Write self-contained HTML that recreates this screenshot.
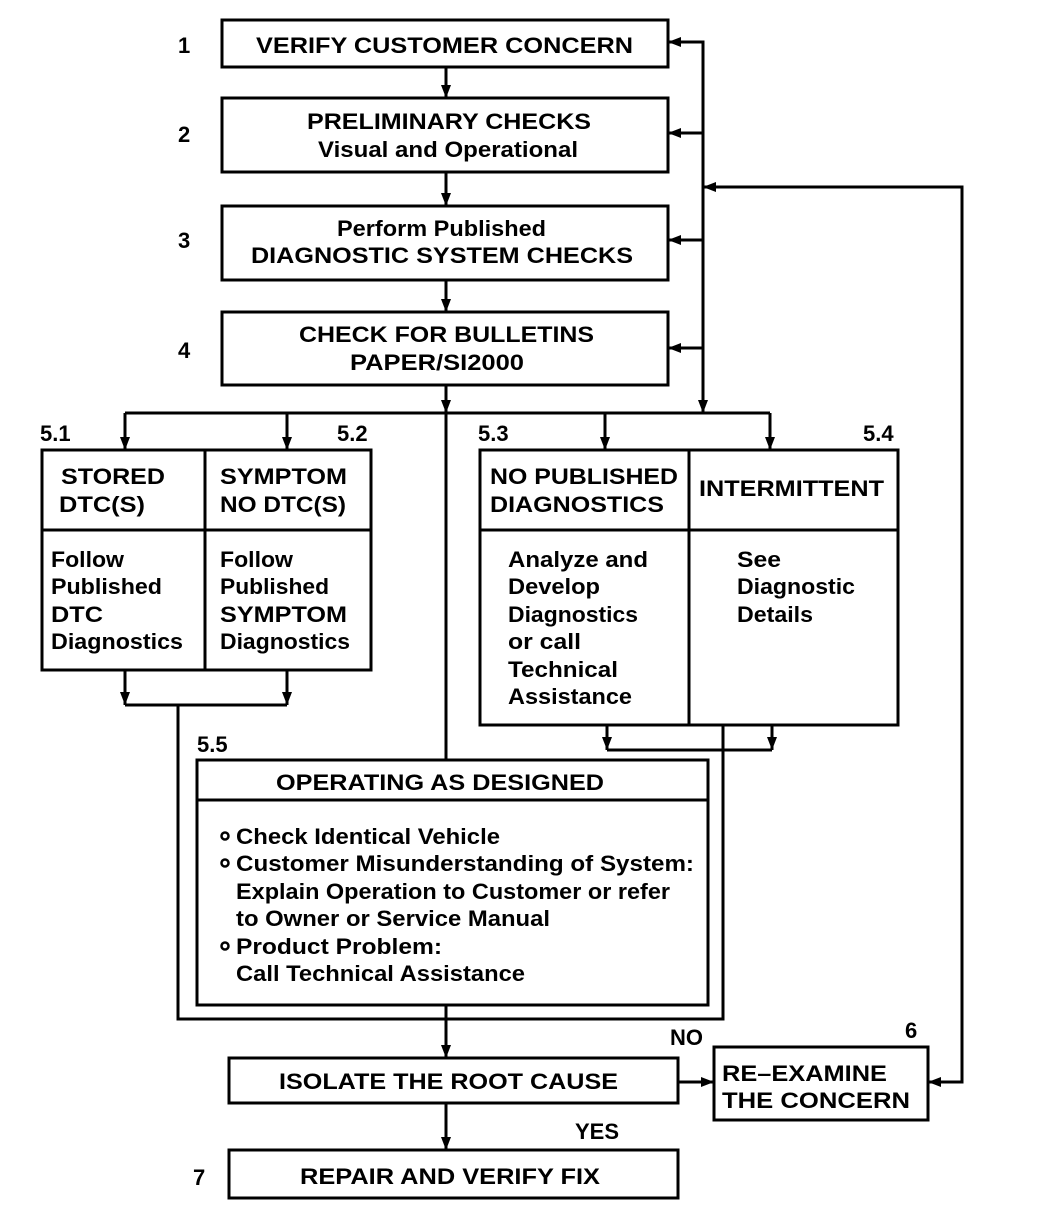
<!DOCTYPE html>
<html><head><meta charset="utf-8"><style>
html,body{margin:0;padding:0;background:#fff;}
svg{display:block;}
text{font-family:"Liberation Sans",Arial,sans-serif;font-weight:bold;font-size:22px;fill:#000;}
</style></head><body>
<svg width="1056" height="1224" viewBox="0 0 1056 1224" xmlns="http://www.w3.org/2000/svg">
<g fill="none" stroke="#000" stroke-width="3">
<rect x="222" y="20" width="446" height="47"/>
<rect x="222" y="98" width="446" height="74"/>
<rect x="222" y="206" width="446" height="74"/>
<rect x="222" y="312" width="446" height="73"/>
<rect x="42" y="450" width="329" height="220"/>
<line x1="205" y1="450" x2="205" y2="670"/>
<line x1="42" y1="530" x2="371" y2="530"/>
<rect x="480" y="450" width="418" height="275"/>
<line x1="689" y1="450" x2="689" y2="725"/>
<line x1="480" y1="530" x2="898" y2="530"/>
<rect x="197" y="760" width="511" height="245"/>
<line x1="197" y1="800" x2="708" y2="800"/>
<rect x="229" y="1058" width="449" height="45"/>
<rect x="714" y="1047" width="214" height="73"/>
<rect x="229" y="1150" width="449" height="48"/>
<!-- connectors -->
<line x1="446" y1="67" x2="446" y2="98"/>
<line x1="446" y1="172" x2="446" y2="206"/>
<line x1="446" y1="280" x2="446" y2="312"/>
<line x1="446" y1="385" x2="446" y2="760"/>
<line x1="125" y1="413" x2="770" y2="413"/>
<line x1="125" y1="413" x2="125" y2="450"/>
<line x1="287" y1="413" x2="287" y2="450"/>
<line x1="605" y1="413" x2="605" y2="450"/>
<line x1="770" y1="413" x2="770" y2="450"/>
<polyline points="668,42 703,42 703,413"/>
<line x1="668" y1="133" x2="703" y2="133"/>
<line x1="668" y1="240" x2="703" y2="240"/>
<line x1="668" y1="348" x2="703" y2="348"/>
<polyline points="703,187 962,187 962,1082 928,1082"/>
<line x1="125" y1="670" x2="125" y2="705"/>
<line x1="287" y1="670" x2="287" y2="705"/>
<line x1="125" y1="705" x2="287" y2="705"/>
<polyline points="178,705 178,1019 723,1019 723,725"/>
<line x1="607" y1="725" x2="607" y2="750"/>
<line x1="772" y1="725" x2="772" y2="750"/>
<line x1="607" y1="750" x2="772" y2="750"/>
<line x1="446" y1="1005" x2="446" y2="1058"/>
<line x1="678" y1="1082" x2="714" y2="1082"/>
<line x1="446" y1="1103" x2="446" y2="1150"/>
</g>
<g fill="#000">
<polygon points="441,85 451,85 446,98"/>
<polygon points="441,193 451,193 446,206"/>
<polygon points="441,299 451,299 446,312"/>
<polygon points="441,400 451,400 446,413"/>
<polygon points="698,400 708,400 703,413"/>
<polygon points="120,437 130,437 125,450"/>
<polygon points="282,437 292,437 287,450"/>
<polygon points="600,437 610,437 605,450"/>
<polygon points="765,437 775,437 770,450"/>
<polygon points="681,37 681,47 668,42"/>
<polygon points="681,128 681,138 668,133"/>
<polygon points="681,235 681,245 668,240"/>
<polygon points="681,343 681,353 668,348"/>
<polygon points="716,182 716,192 703,187"/>
<polygon points="941,1077 941,1087 928,1082"/>
<polygon points="701,1077 701,1087 714,1082"/>
<polygon points="120,692 130,692 125,705"/>
<polygon points="282,692 292,692 287,705"/>
<polygon points="602,737 612,737 607,750"/>
<polygon points="767,737 777,737 772,750"/>
<polygon points="441,1045 451,1045 446,1058"/>
<polygon points="441,1137 451,1137 446,1150"/>
</g>
<!-- labels -->
<text x="178" y="53">1</text>
<text x="178" y="142">2</text>
<text x="178" y="248">3</text>
<text x="178" y="358">4</text>
<text x="40" y="441">5.1</text>
<text x="337" y="441">5.2</text>
<text x="478" y="441">5.3</text>
<text x="863" y="441">5.4</text>
<text x="197" y="752">5.5</text>
<text x="905" y="1038">6</text>
<text x="193" y="1185">7</text>
<text x="670" y="1045">NO</text>
<text x="575" y="1139">YES</text>

<text x="256" y="53" textLength="377" lengthAdjust="spacingAndGlyphs">VERIFY CUSTOMER CONCERN</text>
<text x="307" y="129" textLength="284" lengthAdjust="spacingAndGlyphs">PRELIMINARY CHECKS</text>
<text x="318" y="157" textLength="260" lengthAdjust="spacingAndGlyphs">Visual and Operational</text>
<text x="337" y="236" textLength="209" lengthAdjust="spacingAndGlyphs">Perform Published</text>
<text x="251" y="263" textLength="382" lengthAdjust="spacingAndGlyphs">DIAGNOSTIC SYSTEM CHECKS</text>
<text x="299" y="342" textLength="295" lengthAdjust="spacingAndGlyphs">CHECK FOR BULLETINS</text>
<text x="350" y="370" textLength="174" lengthAdjust="spacingAndGlyphs">PAPER/SI2000</text>

<text x="61" y="484" textLength="104" lengthAdjust="spacingAndGlyphs">STORED</text>
<text x="59" y="512" textLength="86" lengthAdjust="spacingAndGlyphs">DTC(S)</text>
<text x="220" y="484" textLength="127" lengthAdjust="spacingAndGlyphs">SYMPTOM</text>
<text x="220" y="512" textLength="126" lengthAdjust="spacingAndGlyphs">NO DTC(S)</text>
<text x="51" y="567" textLength="73" lengthAdjust="spacingAndGlyphs">Follow</text>
<text x="51" y="594" textLength="111" lengthAdjust="spacingAndGlyphs">Published</text>
<text x="51" y="622" textLength="52" lengthAdjust="spacingAndGlyphs">DTC</text>
<text x="51" y="649" textLength="132" lengthAdjust="spacingAndGlyphs">Diagnostics</text>
<text x="220" y="567" textLength="73" lengthAdjust="spacingAndGlyphs">Follow</text>
<text x="220" y="594" textLength="109" lengthAdjust="spacingAndGlyphs">Published</text>
<text x="220" y="622" textLength="127" lengthAdjust="spacingAndGlyphs">SYMPTOM</text>
<text x="220" y="649" textLength="130" lengthAdjust="spacingAndGlyphs">Diagnostics</text>

<text x="490" y="484" textLength="188" lengthAdjust="spacingAndGlyphs">NO PUBLISHED</text>
<text x="490" y="512" textLength="174" lengthAdjust="spacingAndGlyphs">DIAGNOSTICS</text>
<text x="699" y="496" textLength="185" lengthAdjust="spacingAndGlyphs">INTERMITTENT</text>
<text x="508" y="567" textLength="140" lengthAdjust="spacingAndGlyphs">Analyze and</text>
<text x="508" y="594" textLength="92" lengthAdjust="spacingAndGlyphs">Develop</text>
<text x="508" y="622" textLength="130" lengthAdjust="spacingAndGlyphs">Diagnostics</text>
<text x="508" y="649" textLength="73" lengthAdjust="spacingAndGlyphs">or call</text>
<text x="508" y="677" textLength="110" lengthAdjust="spacingAndGlyphs">Technical</text>
<text x="508" y="704" textLength="124" lengthAdjust="spacingAndGlyphs">Assistance</text>
<text x="737" y="567" textLength="44" lengthAdjust="spacingAndGlyphs">See</text>
<text x="737" y="594" textLength="118" lengthAdjust="spacingAndGlyphs">Diagnostic</text>
<text x="737" y="622" textLength="76" lengthAdjust="spacingAndGlyphs">Details</text>

<text x="276" y="790" textLength="328" lengthAdjust="spacingAndGlyphs">OPERATING AS DESIGNED</text>
<g fill="none" stroke="#000" stroke-width="2.5">
<circle cx="225" cy="836" r="3.5"/>
<circle cx="225" cy="863" r="3.5"/>
<circle cx="225" cy="946" r="3.5"/>
</g>
<text x="236" y="844" textLength="264" lengthAdjust="spacingAndGlyphs">Check Identical Vehicle</text>
<text x="236" y="871" textLength="458" lengthAdjust="spacingAndGlyphs">Customer Misunderstanding of System:</text>
<text x="236" y="899" textLength="434" lengthAdjust="spacingAndGlyphs">Explain Operation to Customer or refer</text>
<text x="236" y="926" textLength="314" lengthAdjust="spacingAndGlyphs">to Owner or Service Manual</text>
<text x="236" y="954" textLength="206" lengthAdjust="spacingAndGlyphs">Product Problem:</text>
<text x="236" y="981" textLength="289" lengthAdjust="spacingAndGlyphs">Call Technical Assistance</text>

<text x="279" y="1089" textLength="339" lengthAdjust="spacingAndGlyphs">ISOLATE THE ROOT CAUSE</text>
<text x="722" y="1081" textLength="165" lengthAdjust="spacingAndGlyphs">RE–EXAMINE</text>
<text x="722" y="1108" textLength="188" lengthAdjust="spacingAndGlyphs">THE CONCERN</text>
<text x="300" y="1184" textLength="300" lengthAdjust="spacingAndGlyphs">REPAIR AND VERIFY FIX</text>
</svg>
</body></html>
